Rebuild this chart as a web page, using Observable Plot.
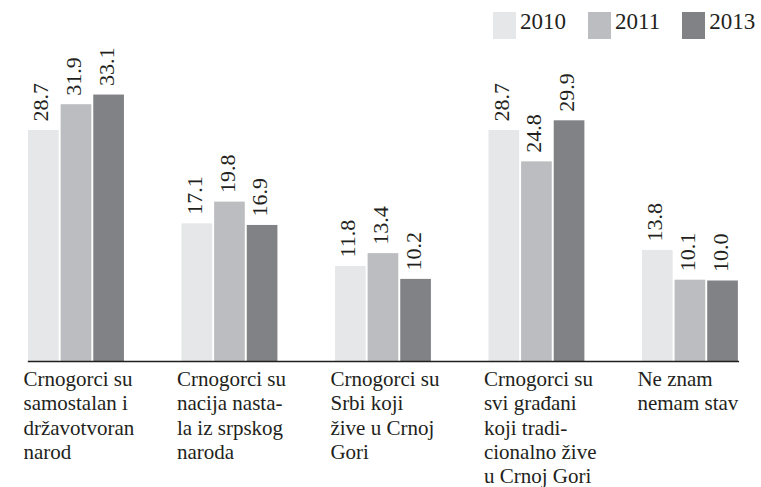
<!DOCTYPE html>
<html>
<head>
<meta charset="utf-8">
<script src="https://cdn.jsdelivr.net/npm/d3@7"></script>
<script src="https://cdn.jsdelivr.net/npm/@observablehq/plot@0.6"></script>
<style>
  html, body { margin: 0; padding: 0; background: #fff; }
  #wrap { position: relative; width: 761px; height: 487px; font-family: "Liberation Serif", "Times New Roman", serif; }
  #legend { position: absolute; left: 493px; top: 12px; display: flex; align-items: flex-start; color: #231f20; font-size: 23px; }
  #legend .item { display: flex; align-items: flex-start; margin-right: 22px; }
  #legend .sw { width: 23px; height: 27px; margin-right: 4px; }
  #legend .lab { line-height: 27px; position: relative; top: -4px; }
</style>
</head>
<body>
<div id="wrap"><div id="legend"></div></div>
<script>
const categories = [
  "Crnogorci su\nsamostalan i\ndržavotvoran\nnarod",
  "Crnogorci su\nnacija nasta-\nla iz srpskog\nnaroda",
  "Crnogorci su\nSrbi koji\nžive u Crnoj\nGori",
  "Crnogorci su\nsvi građani\nkoji tradi-\ncionalno žive\nu Crnoj Gori",
  "Ne znam\nnemam stav"
];
const years = ["2010", "2011", "2013"];
const values2010 = [28.7, 17.1, 11.8, 28.7, 13.8];
const values2011 = [31.9, 19.8, 13.4, 24.8, 10.1];
const values2013 = [33.1, 16.9, 10.2, 29.9, 10.0];
const colors = ["#e6e7e8", "#bcbdc0", "#808285"];

const series = [values2010, values2011, values2013];
const data = [];
categories.forEach((c, i) => {
  years.forEach((y, j) => data.push({cat: c, year: y, value: series[j][i]}));
});

const ink = "#231f20";

const chart = Plot.plot({
  width: 761,
  height: 487,
  marginLeft: 8,
  marginRight: 0,
  marginTop: 39,
  marginBottom: 126,
  style: {fontFamily: "'Liberation Serif', 'Times New Roman', serif", background: "transparent", color: ink},
  fx: {domain: categories, paddingInner: 0.375, paddingOuter: 0.1405, align: 0.464, round: false, label: null, axis: null},
  x: {domain: years, paddingInner: 0.06, paddingOuter: 0, round: false, axis: null},
  y: {domain: [0, 40], axis: null},
  color: {domain: years, range: colors},
  marks: [
    Plot.barY(data, {fx: "cat", x: "year", y: "value", fill: "year"}),
    Plot.text(data, {
      fx: "cat", x: "year", y: "value",
      text: d => d.value.toFixed(1),
      rotate: -90, textAnchor: "start", dy: -9, dx: -2.5,
      fontSize: 22, fill: ink
    }),
    Plot.frame({anchor: "bottom", facet: "super", stroke: ink, strokeWidth: 1.4}),
    Plot.axisFx({
      anchor: "bottom", tickSize: 0, tickPadding: 7, label: null,
      textAnchor: "start", dx: -53, fontSize: 21, lineHeight: 1.16, fill: ink
    })
  ]
});

const wrap = document.getElementById("wrap");
wrap.insertBefore(chart, wrap.firstChild);

const legend = document.getElementById("legend");
years.forEach((y, j) => {
  const item = document.createElement("div");
  item.className = "item";
  const sw = document.createElement("div");
  sw.className = "sw";
  sw.style.background = colors[j];
  const lab = document.createElement("span");
  lab.className = "lab";
  lab.textContent = y;
  item.appendChild(sw);
  item.appendChild(lab);
  legend.appendChild(item);
});
</script>
</body>
</html>
